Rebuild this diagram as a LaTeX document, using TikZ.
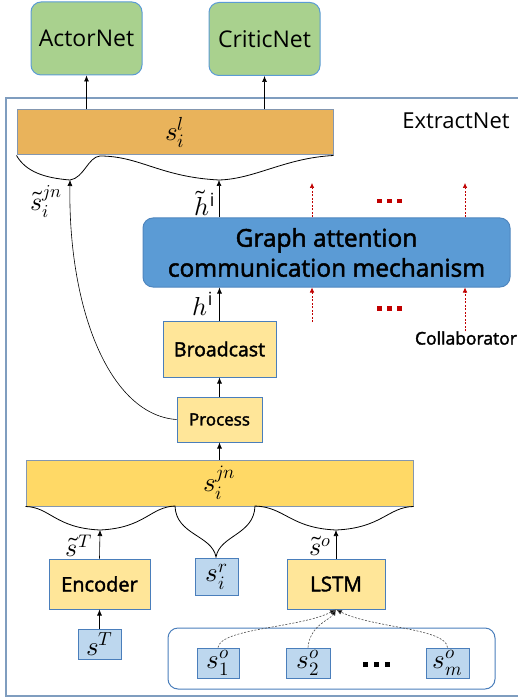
\documentclass[tikz,border=0pt]{standalone}
\usepackage{fontspec}
\usepackage{unicode-math}
\setmainfont{Open Sans}
\setmathfont{Latin Modern Math}
\newfontfamily\semib{Open Sans}[FakeBold=2]
\usetikzlibrary{arrows.meta}
\definecolor{cGreen}{HTML}{A9D18E}
\definecolor{cBlueB}{HTML}{5B9BD5}
\definecolor{cOrange}{HTML}{E9B35B}
\definecolor{cBarB}{HTML}{8497B0}
\definecolor{cYel}{HTML}{FFD966}
\definecolor{cLYel}{HTML}{FFE699}
\definecolor{cBoxB}{HTML}{4A7EBB}
\definecolor{cLBlue}{HTML}{BDD7EE}
\definecolor{cGat}{HTML}{5B9BD5}
\definecolor{cGatB}{HTML}{4F86BF}
\definecolor{cFrame}{HTML}{7F9DBF}
\definecolor{cRed}{HTML}{C00000}
\begin{document}
\begin{tikzpicture}[x=1pt,y=-1pt,
  netbox/.style={draw=cBlueB,fill=cGreen,line width=1pt,rounded corners=10pt,inner sep=0pt,font=\fontsize{23}{26}\selectfont},
  barbox/.style={draw=cBarB,line width=1pt,inner sep=0pt},
  ybox/.style={draw=cBoxB,fill=cLYel,line width=1pt,inner sep=0pt,font=\semib\fontsize{19.5}{22}\selectfont},
  sbox/.style={draw=cBoxB,fill=cLBlue,line width=1pt,inner sep=0pt,font=\fontsize{27}{28}\selectfont},
  mlabel/.style={inner sep=0pt,font=\fontsize{26}{28}\selectfont},
  arr/.style={-{Latex[length=6pt,width=5pt]},line width=0.6pt},
  redarr/.style={-{Latex[length=5pt,width=4.5pt]},draw=cRed,line width=0.6pt,dash pattern=on 2pt off 1.5pt},
  bracel/.style={line width=0.8pt},
  dotl/.style={line width=0.6pt,dash pattern=on 2pt off 1.5pt,draw=black!70,-{Latex[length=6pt,width=5pt,fill=black]}},
  rdot/.style={fill=cRed},
  kdot/.style={fill=black}]
\useasboundingbox (0,0) rectangle (517,700);
% frame
\draw[cFrame,line width=1.5pt] (6,98) rectangle (525,696);
\node[inner sep=0pt,font=\fontsize{22}{26}\selectfont] (extract) at (456,121) {ExtractNet};
% top nets
\node[netbox,minimum width=111pt,minimum height=73pt] (actor) at (86.5,38.5) {ActorNet};
\node[netbox,minimum width=111pt,minimum height=73pt] (critic) at (264.5,39) {CriticNet};
% s_i^l
\node[barbox,fill=cOrange,minimum width=316pt,minimum height=45pt,font=\fontsize{27}{28}\selectfont] (sl) at (175,132.5) {$s_i^{l}$};
\draw[arr] (sl.north -| actor.south) -- (actor.south);
\draw[arr] (sl.north -| critic.south) -- (critic.south);
% upper braces
\coordinate (t1) at (70,180);
\coordinate (t2) at (219,180);
\coordinate (m1) at (100,156);
\draw[bracel] (sl.south west) .. controls (26,172) and (45,178) .. (t1)
  .. controls (84,178) and (88,157) .. (m1)
  .. controls (140,156) and (160,177) .. (t2)
  .. controls (255,179) and (285,158) .. (sl.south east);
\node[mlabel] (lsjn) at (46,202) {$\tilde{s}_i^{jn}$};
\node[mlabel] (lht) at (205,203) {$\tilde{h}^{\mathrm{i}}$};
% GAT
\node[draw=cGatB,fill=cGat,line width=1pt,rounded corners=10pt,minimum width=367pt,minimum height=69pt,inner sep=0pt,align=center,font=\semib\fontsize{24.5}{30}\selectfont] (gat) at (326.5,252.5) {Graph attention\\communication mechanism};
\draw[arr] (gat.north -| t2) -- (t2);
% red
\coordinate (r1) at (312,183);
\coordinate (r2) at (312,322);
\coordinate (r3) at (465,183);
\node[inner sep=0pt,font=\semib\fontsize{17.5}{20}\selectfont] (collab) at (466,338) {Collaborator};
\draw[redarr] (gat.north -| r1) -- (r1);
\draw[redarr] (gat.north -| r3) -- (r3);
\draw[redarr] (r2) -- (gat.south -| r2);
\draw[redarr] (collab.north -| r3) -- (gat.south -| r3);
\foreach \dx in {377,387,397}{
  \fill[rdot] (\dx,198.8) rectangle ++(5,4.5);
  \fill[rdot] (\dx,306.3) rectangle ++(5,4.5);
}
% broadcast / process
\node[ybox,minimum width=113pt,minimum height=56pt] (bc) at (219.5,349) {Broadcast};
\node[ybox,minimum width=85pt,minimum height=45pt,font=\semib\fontsize{17}{20}\selectfont] (proc) at (219.5,419.5) {Process};
\node[mlabel] (lh) at (203,304) {$h^{\mathrm{i}}$};
\draw[arr] (bc.north) -- (bc.north |- gat.south);
\draw[arr] (proc.north) -- (bc.south);
\draw[line width=0.6pt,-{Latex[length=6pt,width=5pt]}] (proc.west) .. controls (110,415) and (68,310) .. (t1);
% s_i^jn
\node[barbox,fill=cYel,minimum width=387pt,minimum height=46pt,font=\fontsize{27}{28}\selectfont] (sjn) at (219.5,483) {$s_i^{jn}$};
\draw[arr] (sjn.north -| proc.south) -- (proc.south);
% lower braces
\coordinate (t3) at (100,530);
\coordinate (m2) at (175,506);
\coordinate (t4) at (216,557);
\coordinate (m3) at (255,506);
\coordinate (t5) at (336,530);
\draw[bracel] (sjn.south west) .. controls (50,507) and (55,528) .. (t3)
  .. controls (145,528) and (150,507) .. (m2)
  .. controls (176,535) and (212,535) .. (t4)
  .. controls (220,535) and (254,535) .. (m3)
  .. controls (285,507) and (290,528) .. (t5)
  .. controls (382,528) and (388,507) .. (sjn.south east);
\node[mlabel] (lsT) at (79,546) {$\tilde{s}^{T}$};
\node[mlabel] (lso) at (320,546) {$\tilde{s}^{o}$};
% lower boxes
\node[ybox,minimum width=101pt,minimum height=50pt,font=\semib\fontsize{20}{22}\selectfont] (enc) at (99.5,584) {Encoder};
\node[sbox,minimum width=43pt,minimum height=37pt] (sr) at (216.5,576.5) {$s_i^{r}$};
\node[ybox,minimum width=98pt,minimum height=50pt,font=\semib\fontsize{20.5}{22}\selectfont] (lstm) at (336,584) {LSTM};
\node[sbox,minimum width=43pt,minimum height=30pt] (sT) at (99.5,644) {$s^{T}$};
\draw[arr] (enc.north) -- (t3);
\draw[arr] (lstm.north) -- (t5);
\draw[arr] (sT.north) -- (enc.south);
% group
\draw[cBoxB,line width=1pt,rounded corners=10pt] (168,628) rectangle (495,689);
\node[sbox,minimum width=42pt,minimum height=30pt] (s1o) at (218,663) {$s_1^{o}$};
\node[sbox,minimum width=44pt,minimum height=30pt] (s2o) at (308,663) {$s_2^{o}$};
\node[sbox,minimum width=43pt,minimum height=30pt] (smo) at (447.5,663) {$s_m^{o}$};
\foreach \dx in {363,374,385}{
  \fill[kdot] (\dx,662) rectangle ++(5,5);
}
\draw[dotl] (s1o.north) .. controls (221,628) and (300,628) .. (lstm.south);
\draw[dotl] (s2o.north) .. controls (310,625) and (330,620) .. (lstm.south);
\draw[dotl] (smo.north) .. controls (446,628) and (372,628) .. (lstm.south);
\end{tikzpicture}
\end{document}
